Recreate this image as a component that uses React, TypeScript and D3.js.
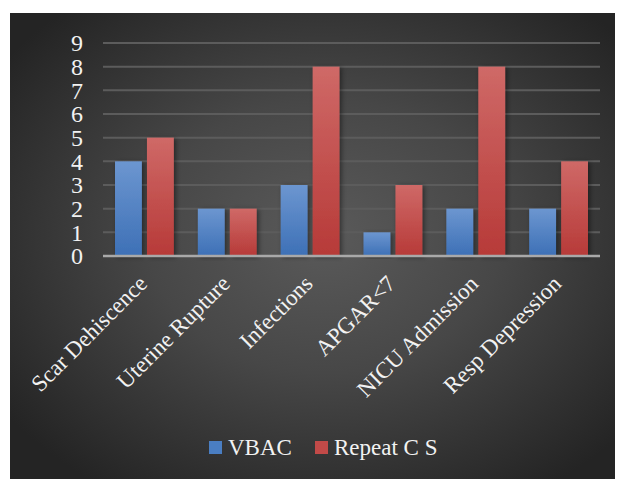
import * as d3 from "d3";

const categories = [
  "Scar Dehiscence",
  "Uterine Rupture",
  "Infections",
  "APGAR<7",
  "NICU Admission",
  "Resp Depression",
];
const seriesNames = ["VBAC", "Repeat C S"];
const vbac = [4, 2, 3, 1, 2, 2];
const repeatCS = [5, 2, 8, 3, 8, 4];
const yTicks = [0, 1, 2, 3, 4, 5, 6, 7, 8, 9];

const W = 617;
const H = 479;
const FONT = "'Liberation Serif', 'Times New Roman', serif";

export default function App() {
  const plotLeft = 103;
  const plotRight = 600;
  const plotTop = 43;
  const plotBottom = 256;

  const x0 = d3.scaleBand<string>().domain(categories).range([plotLeft, plotRight]).padding(0);
  const band = x0.bandwidth();
  const x1 = d3
    .scaleBand<string>()
    .domain(seriesNames)
    .range([band * 0.145, band * 0.855])
    .paddingInner(0.16);
  const y = d3.scaleLinear().domain([0, 9]).range([plotBottom, plotTop]);

  const series = [
    { name: seriesNames[0], values: vbac, fill: "url(#gBlue)", key: "#4a7ec2" },
    { name: seriesNames[1], values: repeatCS, fill: "url(#gRed)", key: "#c24a48" },
  ];

  return (
    <svg
      width={W}
      height={H}
      style={{ position: "absolute", left: 0, top: 0 }}
    >
      <defs>
        <radialGradient id="bg" cx="52%" cy="48%" r="65%">
          <stop offset="0%" stopColor="#5a5a5a" />
          <stop offset="45%" stopColor="#474747" />
          <stop offset="100%" stopColor="#242424" />
        </radialGradient>
        <linearGradient id="gBlue" x1="0" y1="0" x2="0" y2="1">
          <stop offset="0%" stopColor="#6c96d0" />
          <stop offset="100%" stopColor="#3d70b6" />
        </linearGradient>
        <linearGradient id="gRed" x1="0" y1="0" x2="0" y2="1">
          <stop offset="0%" stopColor="#cf6967" />
          <stop offset="100%" stopColor="#b73a38" />
        </linearGradient>
        <filter id="shadow" x="-30%" y="-10%" width="160%" height="120%">
          <feDropShadow dx="2" dy="1" stdDeviation="2.5" floodColor="#000" floodOpacity="0.45" />
        </filter>
      </defs>

      <rect x={10} y={13} width={605} height={466} fill="url(#bg)" />

      {/* gridlines */}
      {yTicks.slice(1).map((t) => (
        <line
          key={t}
          x1={plotLeft}
          x2={plotRight}
          y1={y(t)}
          y2={y(t)}
          stroke="#5c5c5c"
          strokeWidth={2}
        />
      ))}

      {/* y tick labels */}
      {yTicks.map((t) => (
        <text
          key={t}
          x={83}
          y={y(t)}
          dy="0.35em"
          textAnchor="end"
          fill="#f2f2f2"
          fontFamily={FONT}
          fontSize={24}
        >
          {t}
        </text>
      ))}

      {/* bars */}
      {categories.map((c, i) => (
        <g key={c} transform={`translate(${x0(c)},0)`}>
          {series.map((s) => (
            <rect
              key={s.name}
              x={x1(s.name)}
              y={y(s.values[i])}
              width={x1.bandwidth()}
              height={y(0) - y(s.values[i])}
              fill={s.fill}
              filter="url(#shadow)"
            />
          ))}
        </g>
      ))}

      {/* axis line */}
      <line
        x1={plotLeft}
        x2={plotRight}
        y1={plotBottom}
        y2={plotBottom}
        stroke="#a9a9a9"
        strokeWidth={2.5}
      />

      {/* category labels */}
      {categories.map((c) => {
        const cx = (x0(c) as number) + band / 2 + 4;
        const cy = 285;
        return (
          <text
            key={c}
            transform={`translate(${cx},${cy}) rotate(-45)`}
            textAnchor="end"
            fill="#f2f2f2"
            fontFamily={FONT}
            fontSize={23}
          >
            {c}
          </text>
        );
      })}

      {/* legend */}
      {series.map((s, i) => {
        const lx = [209, 315][i];
        return (
          <g key={s.name}>
            <rect x={lx} y={441} width={13} height={13} fill={s.key} />
            <text
              x={lx + 19}
              y={454.5}
              fill="#f2f2f2"
              fontFamily={FONT}
              fontSize={23}
            >
              {s.name}
            </text>
          </g>
        );
      })}
    </svg>
  );
}
